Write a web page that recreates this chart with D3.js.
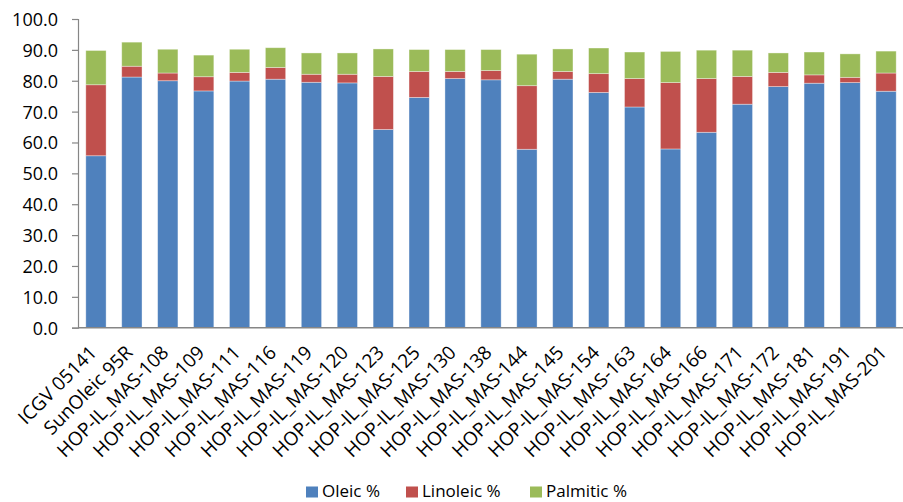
<!DOCTYPE html>
<html>
<head>
<meta charset="utf-8">
<script src="https://cdn.jsdelivr.net/npm/d3@7/dist/d3.min.js"></script>
<style>
  html, body { margin: 0; padding: 0; background: #fff; }
  text { font-family: "Open Sans", Lato, sans-serif; fill: #000; }
</style>
</head>
<body>
<svg id="chart" width="903" height="502"></svg>
<script>
// Fatty acid composition per genotype
const categories = [
  "ICGV 05141", "SunOleic 95R", "HOP-IL_MAS-108", "HOP-IL_MAS-109", "HOP-IL_MAS-111",
  "HOP-IL_MAS-116", "HOP-IL_MAS-119", "HOP-IL_MAS-120", "HOP-IL_MAS-123", "HOP-IL_MAS-125",
  "HOP-IL_MAS-130", "HOP-IL_MAS-138", "HOP-IL_MAS-144", "HOP-IL_MAS-145", "HOP-IL_MAS-154",
  "HOP-IL_MAS-163", "HOP-IL_MAS-164", "HOP-IL_MAS-166", "HOP-IL_MAS-171", "HOP-IL_MAS-172",
  "HOP-IL_MAS-181", "HOP-IL_MAS-191", "HOP-IL_MAS-201"
];
const oleic = [55.7, 81.2, 80.0, 76.7, 79.9, 80.5, 79.5, 79.3, 64.2, 74.6, 80.7, 80.3, 57.8, 80.5, 76.2, 71.5, 57.9, 63.3, 72.4, 78.1, 79.2, 79.4, 76.6];
const linoleic = [23.0, 3.5, 2.5, 4.6, 2.8, 3.8, 2.6, 2.8, 17.2, 8.4, 2.3, 3.0, 20.6, 2.5, 6.1, 9.2, 21.5, 17.4, 9.0, 4.6, 2.7, 1.7, 5.9];
const palmitic = [11.1, 7.8, 7.7, 7.0, 7.5, 6.4, 6.9, 6.9, 8.9, 7.1, 7.1, 6.8, 10.2, 7.3, 8.3, 8.6, 10.1, 9.2, 8.5, 6.3, 7.4, 7.6, 7.1];
const seriesNames = ["Oleic %", "Linoleic %", "Palmitic %"];
const colors = ["#4F81BD", "#C0504D", "#9BBB59"];
const yTicks = [0, 10, 20, 30, 40, 50, 60, 70, 80, 90, 100];

const rows = categories.map((c, i) => ({
  cat: c, "Oleic %": oleic[i], "Linoleic %": linoleic[i], "Palmitic %": palmitic[i]
}));
const stacked = d3.stack().keys(seriesNames)(rows);

const svg = d3.select("#chart");
const plotLeft = 78, plotRight = 904, plotTop = 19, plotBottom = 327.7;

const x = d3.scaleBand().domain(categories).range([plotLeft, plotRight])
  .paddingInner(0.435).paddingOuter(0.2175);
const y = d3.scaleLinear().domain([0, 100]).range([plotBottom, plotTop]);

// stacked bars
svg.append("g").selectAll("g")
  .data(stacked)
  .join("g")
  .attr("fill", (d, i) => colors[i])
  .selectAll("rect")
  .data(d => d)
  .join("rect")
  .attr("x", d => x(d.data.cat))
  .attr("width", x.bandwidth())
  .attr("y", d => y(d[1]))
  .attr("height", d => y(d[0]) - y(d[1]))
  .attr("stroke", "rgba(255,255,255,0.45)")
  .attr("stroke-width", 0.8);

// y axis
const yAxis = svg.append("g")
  .attr("transform", `translate(${plotLeft},0)`)
  .call(d3.axisLeft(y).tickValues(yTicks).tickFormat(d3.format(".1f")).tickSize(6).tickPadding(14));
yAxis.select(".domain").attr("stroke", "#868686").attr("stroke-width", 1.2);
yAxis.selectAll(".tick line").attr("stroke", "#868686").attr("stroke-width", 1.2);
yAxis.selectAll(".tick text").style("font-size", "18px").attr("fill", "#000").attr("dy", "0.36em");

// x axis
const xAxis = svg.append("g")
  .attr("transform", `translate(0,${plotBottom})`)
  .call(d3.axisBottom(x).tickSize(0).tickPadding(0).tickSizeOuter(0));
xAxis.select(".domain").attr("stroke", "#868686").attr("stroke-width", 1.5)
  .attr("d", `M${plotLeft},0H${plotRight}`);
xAxis.selectAll(".tick text")
  .style("font-size", "19px")
  .attr("text-anchor", "end")
  .attr("dy", null)
  .attr("y", 0)
  .attr("transform", "translate(2,26) rotate(-45)");

// legend
const legendX = [306, 406, 530];
const legend = svg.append("g").selectAll("g")
  .data(seriesNames)
  .join("g")
  .attr("transform", (d, i) => `translate(${legendX[i]},486.5)`);
legend.append("rect").attr("width", 12).attr("height", 11).attr("fill", (d, i) => colors[i]);
legend.append("text").attr("x", 16).attr("y", 10.5).style("font-size", "17px").text(d => d);
</script>
</body>
</html>
